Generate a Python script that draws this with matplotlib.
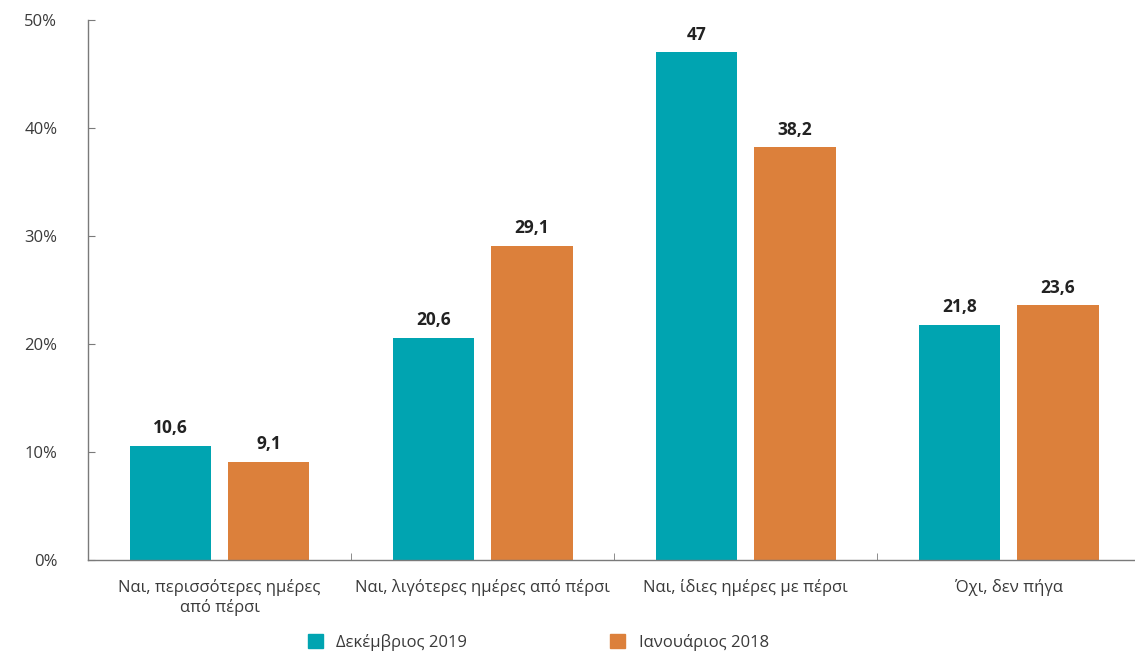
import numpy as np
import matplotlib
matplotlib.use('Agg')
import matplotlib.pyplot as plt
from matplotlib.patches import Patch

plt.rcParams['font.family'] = ['Open Sans', 'DejaVu Sans']

categories = ['Ναι, περισσότερες ημέρες\nαπό πέρσι',
              'Ναι, λιγότερες ημέρες από πέρσι',
              'Ναι, ίδιες ημέρες με πέρσι',
              'Όχι, δεν πήγα']
dec_2019 = [10.6, 20.6, 47, 21.8]
jan_2018 = [9.1, 29.1, 38.2, 23.6]
dec_labels = ['10,6', '20,6', '47', '21,8']
jan_labels = ['9,1', '29,1', '38,2', '23,6']
series_names = ['Δεκέμβριος 2019', 'Ιανουάριος 2018']

teal = '#00A4B1'
orange = '#DC803B'
grey = '#7a7a7a'
txt = '#3a3a3a'

fig = plt.figure(figsize=(11.35, 6.53), dpi=100)
ax = fig.add_axes([0.0775, 0.1424, 0.9225, 0.8270])

x = np.arange(len(categories))
w = 0.31
off = 0.187
b1 = ax.bar(x - off, dec_2019, width=w, color=teal)
b2 = ax.bar(x + off, jan_2018, width=w, color=orange)

for bars, labs in [(b1, dec_labels), (b2, jan_labels)]:
    for b, l in zip(bars, labs):
        ax.annotate(l, (b.get_x() + b.get_width() / 2, b.get_height()),
                    xytext=(0, 6), textcoords='offset points',
                    ha='center', va='bottom', fontsize=12.5, fontweight='bold',
                    color='#222222')

ax.set_xlim(-0.5, 3.48)
ax.set_ylim(0, 50)
ax.set_yticks(np.arange(0, 51, 10))
ax.set_yticklabels([f'{v}%' for v in range(0, 51, 10)])
ax.set_xticks(x)
ax.set_xticklabels(categories)
ax.set_xticks([0.5, 1.5, 2.5], minor=True)

ax.spines['top'].set_visible(False)
ax.spines['right'].set_visible(False)
for s in ['left', 'bottom']:
    ax.spines[s].set_color(grey)
    ax.spines[s].set_linewidth(1.0)

ax.tick_params(axis='y', direction='in', length=5, color=grey, labelsize=12,
               labelcolor=txt, pad=22)
ax.tick_params(axis='x', which='major', length=0, labelsize=12,
               labelcolor=txt, pad=14)
ax.tick_params(axis='x', which='minor', direction='in', length=5, color=grey)

handles = [Patch(color=teal), Patch(color=orange)]
fig.legend(handles, series_names, loc='center left',
           bbox_to_anchor=(0.258, 0.016), ncol=2, frameon=False,
           fontsize=12, handlelength=0.9, handleheight=0.9,
           handletextpad=0.8, columnspacing=8.6, labelcolor=txt)

fig.savefig('out.png', dpi=100)
